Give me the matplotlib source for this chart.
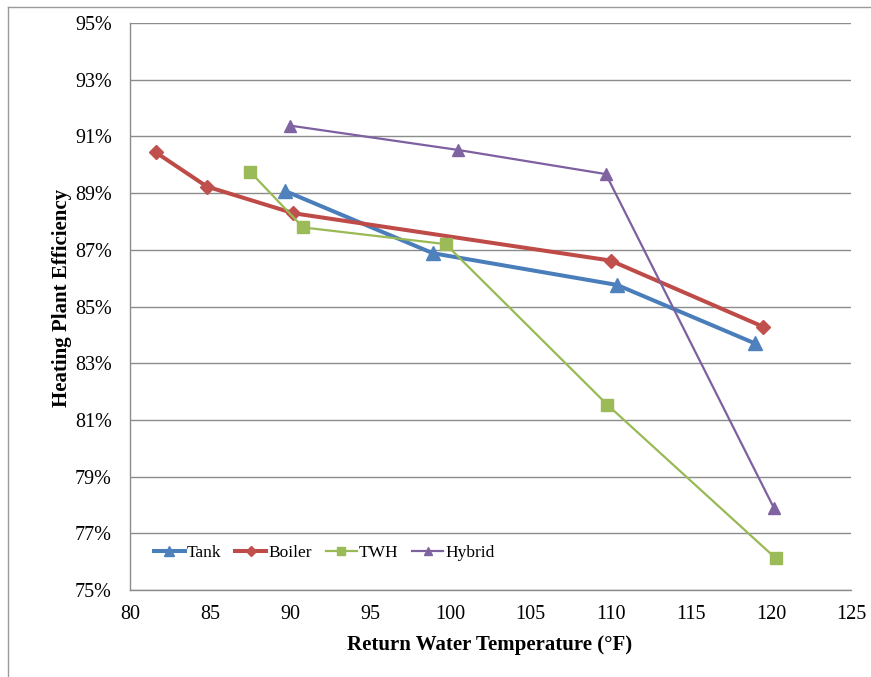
import matplotlib
matplotlib.use("Agg")
import matplotlib.pyplot as plt
from matplotlib.lines import Line2D
from matplotlib.ticker import FuncFormatter

# ---------------------------------------------------------------------------
# Data
# ---------------------------------------------------------------------------
tank_x = [89.7, 98.9, 110.4, 119.0]
tank_y = [89.07, 86.88, 85.76, 83.70]

boiler_x = [81.6, 84.8, 90.2, 110.0, 119.5]
boiler_y = [90.44, 89.23, 88.29, 86.62, 84.29]

twh_x = [87.5, 90.8, 99.7, 109.8, 120.3]
twh_y = [89.75, 87.79, 87.20, 81.53, 76.12]

hybrid_x = [90.0, 100.5, 109.7, 120.2]
hybrid_y = [91.38, 90.52, 89.67, 77.88]

x_ticks = [80, 85, 90, 95, 100, 105, 110, 115, 120, 125]
y_ticks = [75, 77, 79, 81, 83, 85, 87, 89, 91, 93, 95]

# ---------------------------------------------------------------------------
# Plot
# ---------------------------------------------------------------------------
plt.rcParams.update({
    "font.family": ["Liberation Serif", "DejaVu Serif"],
    "font.size": 14,
})

fig = plt.figure(figsize=(8.71, 6.77), dpi=100)
ax = fig.add_axes([130 / 871, 1 - 590 / 677, 721 / 871, 567 / 677])

grid_c = "#8c8c8c"
ax.plot(tank_x, tank_y, color="#4a7ebb", lw=2.9, marker="^", ms=10,
        mfc="#4f81bd", mec="#4f81bd", label="Tank", zorder=3)
ax.plot(boiler_x, boiler_y, color="#be4b48", lw=2.9, marker="D", ms=7.5,
        mfc="#c0504d", mec="#c0504d", label="Boiler", zorder=3)
ax.plot(twh_x, twh_y, color="#98b954", lw=1.6, marker="s", ms=8,
        mfc="#9bbb59", mec="#9bbb59", label="TWH", zorder=3)
ax.plot(hybrid_x, hybrid_y, color="#7d60a0", lw=1.6, marker="^", ms=8,
        mfc="#8064a2", mec="#8064a2", label="Hybrid", zorder=3)

ax.set_xlim(80, 125)
ax.set_ylim(75, 95)
ax.set_xticks(x_ticks)
ax.set_yticks(y_ticks)
ax.yaxis.set_major_formatter(FuncFormatter(lambda v, _: f"{v:.0f}%"))
ax.grid(axis="y", color=grid_c, lw=1.0)
ax.set_axisbelow(True)

for side in ["top", "right"]:
    ax.spines[side].set_visible(False)
for side in ["left", "bottom"]:
    ax.spines[side].set_color(grid_c)
    ax.spines[side].set_linewidth(1.0)
ax.tick_params(axis="both", length=0, labelsize=14.5)
ax.tick_params(axis="y", pad=13)
ax.tick_params(axis="x", pad=11)

ax.set_xlabel("Return Water Temperature (\u00b0F)", fontsize=15,
              fontweight="bold", va="center")
ax.set_ylabel("Heating Plant Efficiency", fontsize=15,
              fontweight="bold", va="center")
ax.xaxis.set_label_coords((490 - 130) / 721, (590 - 645) / 567)
ax.yaxis.set_label_coords((62 - 130) / 721, (590 - 298) / 567)

ax.legend(loc="center left", bbox_to_anchor=(0.033, 0.065), ncol=4,
          frameon=False, fontsize=12.5, handlelength=1.8, handletextpad=0.1,
          columnspacing=0.8, borderpad=0, borderaxespad=0, markerscale=0.7)

# thin outer border (top and left edge of the chart frame)
fig.add_artist(Line2D([8 / 871, 1.0], [1 - 7 / 677, 1 - 7 / 677],
                      transform=fig.transFigure, color="#9a9a9a", lw=1.0))
fig.add_artist(Line2D([8 / 871, 8 / 871], [0.0, 1 - 7 / 677],
                      transform=fig.transFigure, color="#9a9a9a", lw=1.0))

fig.savefig("out.png", dpi=100)
plt.close(fig)
